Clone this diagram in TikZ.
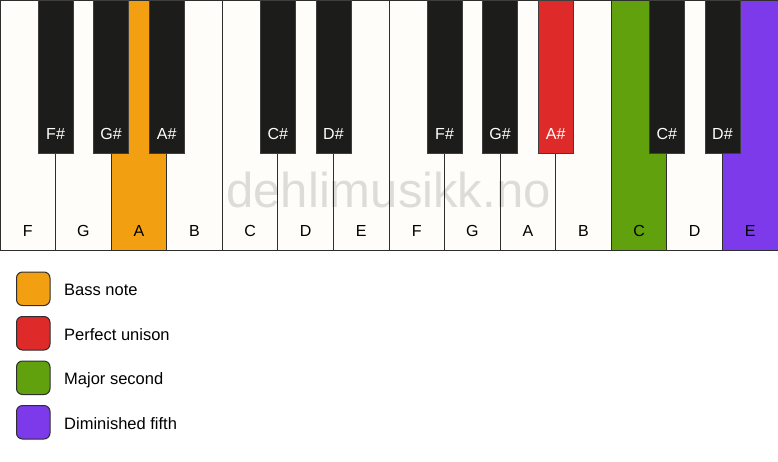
\documentclass[tikz,border=0pt]{standalone}
\usepackage{fontspec}
\setmainfont{Liberation Sans}
\definecolor{wkey}{HTML}{FFFDF9}
\definecolor{bkey}{HTML}{1C1C1A}
\definecolor{keyline}{HTML}{2E2E2E}
\definecolor{orangek}{HTML}{F39F12}
\definecolor{redk}{HTML}{DF2A2A}
\definecolor{greenk}{HTML}{62A10E}
\definecolor{purplek}{HTML}{7D3AEB}
\tikzset{
  whitekey/.style={draw=keyline, line width=1pt},
  blackkey/.style={draw=keyline!80!gray, line width=0.8pt},
  wlabel/.style={inner sep=0pt, anchor=base, text=black, font=\fontsize{16}{18}\selectfont},
  blabel/.style={inner sep=0pt, anchor=base, text=white, font=\fontsize{16}{18}\selectfont},
  legbox/.style={draw=keyline, line width=1pt, rounded corners=6pt},
  legtext/.style={inner sep=0pt, anchor=base west, text=black, font=\fontsize{16.5}{18}\selectfont},
  watermark/.style={inner sep=0pt, anchor=base, text=black, text opacity=0.13, font=\fontsize{49}{50}\selectfont}
}
\begin{document}
\begin{tikzpicture}[x=1pt,y=-1pt]
\def\w{55.5714}
\useasboundingbox (0,0) rectangle (778,461);
\fill[white] (0,0) rectangle (778,461);
% white keys
\foreach \i/\n/\c in {0/F/wkey,1/G/wkey,2/A/orangek,3/B/wkey,4/C/wkey,5/D/wkey,6/E/wkey,7/F/wkey,8/G/wkey,9/A/wkey,10/B/wkey,11/C/greenk,12/D/wkey,13/E/purplek}{
  \draw[whitekey, fill=\c] ({\i*\w},0.5) rectangle ({(\i+1)*\w},250);
  \node[wlabel] (w\i) at ({(\i+0.5)*\w},236) {\n};
}
% watermark
\node[watermark] (wm) at (388.5,207) {dehlimusikk.no};
% black keys
\foreach \b/\n/\c in {1/F/bkey,2/G/bkey,3/A/bkey,5/C/bkey,6/D/bkey,8/F/bkey,9/G/bkey,10/A/redk,12/C/bkey,13/D/bkey}{
  \draw[blackkey, fill=\c] ({\b*\w-17.5},0.5) rectangle ({\b*\w+17.5},153);
  \node[blabel] (b\b) at ({\b*\w},139) {\n\#};
}
% legend
\foreach \k/\c/\t in {0/orangek/Bass note,1/redk/Perfect unison,2/greenk/Major second,3/purplek/Diminished fifth}{
  \draw[legbox, fill=\c] (16.5,{272+\k*44.5}) rectangle (50,{305.5+\k*44.5});
  \node[legtext] (l\k) at (64,{295.5+\k*44.5}) {\t};
}
\end{tikzpicture}
\end{document}
